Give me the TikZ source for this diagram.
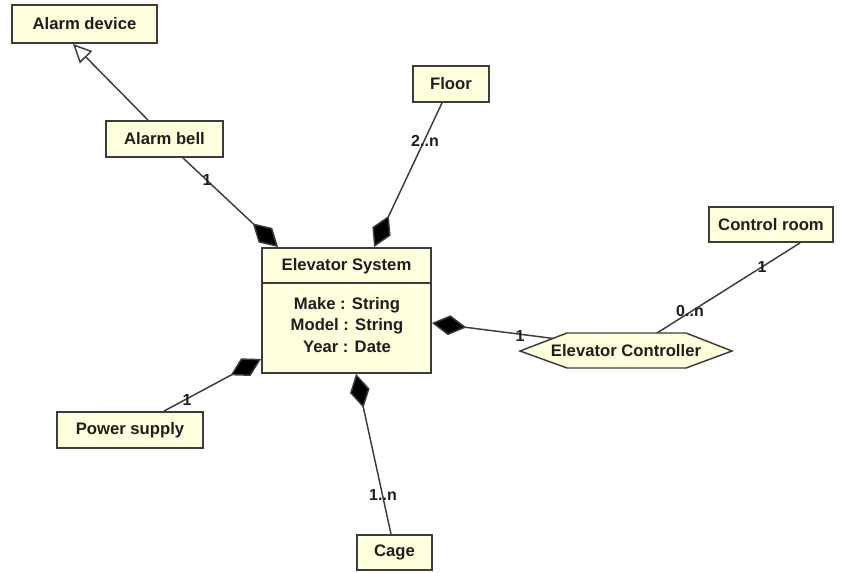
\documentclass[tikz,border=0pt]{standalone}
\usepackage{fontspec}
\setmainfont{Liberation Sans}
\usetikzlibrary{arrows.meta,calc}
\definecolor{boxfill}{RGB}{255,255,221}
\definecolor{boxline}{RGB}{60,60,60}
\definecolor{txt}{RGB}{30,30,30}
\begin{document}
\begin{tikzpicture}[x=0.75pt,y=-0.75pt,
  box/.style={draw=boxline,line width=1.4pt,fill=boxfill,inner sep=0pt,
    font=\fontsize{12.5}{15}\selectfont\bfseries,text=txt},
  lbl/.style={font=\fontsize{12}{14}\selectfont\bfseries,text=txt,inner sep=0pt},
  conn/.style={draw=boxline,line width=1.1pt},
  comp/.style={conn,-{Diamond[length=26pt,width=15pt,fill=black]}},
  gen/.style={conn,-{Triangle[open,length=14pt,width=13pt,fill=white]}}]
\useasboundingbox (0,0) rectangle (841,572);

\node[box,minimum width=108.75pt,minimum height=28.5pt] (ad) at (84.5,24) {Alarm device};
\node[box,minimum width=87.75pt,minimum height=27pt] (ab) at (164.5,139) {Alarm bell};
\node[box,minimum width=57pt,minimum height=27pt] (fl) at (451,84) {Floor};
\node[box,minimum width=93pt,minimum height=26.25pt] (cr) at (771,224.5) {Control room};
\node[box,minimum width=109.5pt,minimum height=27pt] (ps) at (130,430) {Power supply};
\node[box,minimum width=56.25pt,minimum height=26.25pt] (cg) at (394.5,552.5) {Cage};

% Elevator System class
\node[box,minimum width=126.75pt,minimum height=93.75pt] (es) at (346.5,310.5) {};
\draw[boxline,line width=1.1pt] ($(es.north west)+(0,36)$) -- ($(es.north east)+(0,36)$);
\node[lbl,font=\fontsize{12.5}{15}\selectfont\bfseries] (est) at (346.5,266) {Elevator System};
\node[lbl,font=\fontsize{12.5}{16}\selectfont\bfseries,align=center] (esa) at (347,325)
  {Make : String\\Model : String\\Year : Date};

% Elevator Controller hexagon
\coordinate (ecL) at (520,351);
\coordinate (ecTL) at (567,333);
\coordinate (ecTR) at (686,333);
\coordinate (ecR) at (732,351);
\coordinate (ecBR) at (686,368);
\coordinate (ecBL) at (567,368);
\draw[draw=boxline,line width=1.1pt,fill=boxfill] (ecL) -- (ecTL) -- (ecTR) -- (ecR) -- (ecBR) -- (ecBL) -- cycle;
\node[lbl,font=\fontsize{12.5}{15}\selectfont\bfseries] (ec) at (626,351) {Elevator Controller};
\coordinate (ecA) at ($(ecL)!0.7!(ecTL)$);
\coordinate (ecB) at ($(ecTL)!0.756!(ecTR)$);

% connectors
\draw[gen] ($(ab.north)+(-16.5,0)$) -- ($(ad.south)+(-11.5,0)$);
\draw[comp] ($(ab.south)+(18.5,0)$) -- ($(es.north west)+(17,0)$);
\draw[comp] ($(fl.south)+(-9,0)$) -- ($(es.north west)+(113,0)$);
\draw[comp] (ecA) -- ($(es.east)+(0,12.5)$);
\draw[conn] ($(cr.south)+(29,0)$) -- (ecB);
\draw[comp] ($(ps.north)+(34,0)$) -- ($(es.south west)+(0,-15)$);
\draw[comp] ($(cg.north)+(-3.5,0)$) -- ($(es.south west)+(95,0)$);

% multiplicities
\node[lbl] (m1) at (207,180) {1};
\node[lbl] (m2) at (425,141) {2..n};
\node[lbl] (m3) at (520,336) {1};
\node[lbl] (m4) at (762,267) {1};
\node[lbl] (m5) at (690,311) {0..n};
\node[lbl] (m6) at (187,400) {1};
\node[lbl] (m7) at (383,495) {1..n};
\end{tikzpicture}
\end{document}
